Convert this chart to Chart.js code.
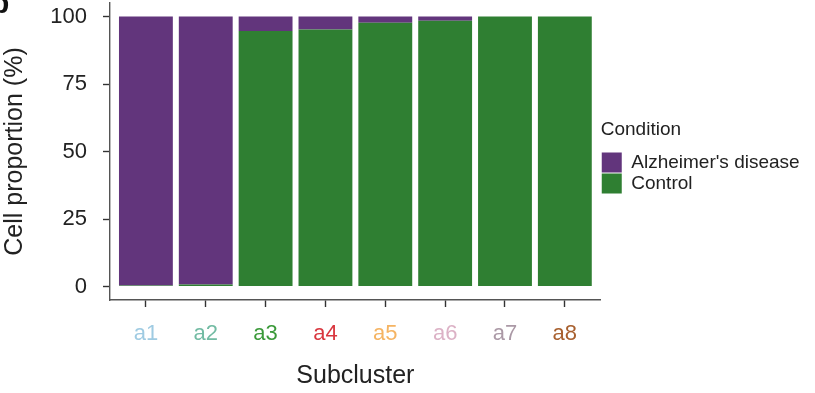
<!DOCTYPE html>
<html>
<head>
<meta charset="utf-8">
<script src="https://cdn.jsdelivr.net/npm/chart.js@4/dist/chart.umd.min.js"></script>
<style>
    body { margin: 0; background: #fff; }
    #wrap { position: relative; width: 815px; height: 393px; overflow: hidden; }
    #panel { position: absolute; left: -9px; top: -12px; font: bold 30px "Liberation Sans", Arial, sans-serif; color: #111; line-height: 1; }
</style>
</head>
<body>
<div id="wrap">
    <canvas id="grafica" width="815" height="393"></canvas>
    <div id="panel">b</div>
</div>
<script>
// subclusters y porcentajes
const subclusters = ["a1", "a2", "a3", "a4", "a5", "a6", "a7", "a8"];
const alzheimerPct = [99.6, 99.3, 5.4, 4.8, 2.3, 1.6, 0, 0];
const controlPct = [0.4, 0.7, 94.6, 95.2, 97.7, 98.4, 100, 100];
const yTicks = [0, 25, 50, 75, 100];
const colorTicks = ["#9fcbe2", "#72bba3", "#3b9a3a", "#d9373f", "#f5b463", "#dcb2c6", "#ab99a6", "#a8602f"];

const fuente = "'Liberation Sans', Arial, Helvetica, sans-serif";

function puntos(valores) {
    return valores.map((v, i) => ({x: i + 1, y: v}));
}

const ctx = document.getElementById('grafica').getContext('2d');
new Chart(ctx, {
    type: 'bar',
    data: {
        datasets: [{
                label: 'Control',
                data: puntos(controlPct),
                backgroundColor: '#2f7f32',
                borderWidth: 0,
                categoryPercentage: 1,
                barPercentage: 0.9
            }, {
                label: "Alzheimer's disease",
                data: puntos(alzheimerPct),
                backgroundColor: '#62357c',
                borderWidth: 0,
                categoryPercentage: 1,
                barPercentage: 0.9
            }]
    },
    options: {
        responsive: false,
        animation: false,
        layout: {padding: {top: 3, right: 14, left: 0, bottom: 0}},
        plugins: {
            tooltip: {enabled: false},
            legend: {
                position: 'right',
                align: 'center',
                fullSize: false,
                reverse: true,
                title: {
                    display: true,
                    text: 'Condition',
                    position: 'start',
                    color: '#222',
                    font: {family: fuente, size: 19},
                    padding: {top: 12, bottom: 8}
                },
                labels: {
                    boxWidth: 20,
                    boxHeight: 20,
                    padding: 1,
                    color: '#222',
                    font: {family: fuente, size: 19}
                }
            }
        },
        scales: {
            x: {
                type: 'linear',
                stacked: true,
                offset: false,
                min: 0.4,
                max: 8.6,
                afterBuildTicks: (scale) => {
                    scale.ticks = subclusters.map((s, i) => ({value: i + 1}));
                },
                afterFit: (scale) => {
                    scale.height = 93;
                    scale.paddingLeft = 0;
                    scale.paddingRight = 0;
                },
                grid: {display: true, offset: false, drawOnChartArea: false, drawTicks: true, tickLength: 7, tickWidth: 1.4, tickColor: '#333'},
                border: {display: true, color: '#555', width: 1.4},
                ticks: {
                    padding: 14,
                    maxRotation: 0,
                    autoSkip: false,
                    font: {family: fuente, size: 22},
                    color: (c) => colorTicks[c.tick.value - 1],
                    callback: (v) => subclusters[v - 1]
                },
                title: {
                    display: true,
                    text: 'Subcluster',
                    color: '#222',
                    font: {family: fuente, size: 25},
                    padding: {top: 0, bottom: 2}
                }
            },
            y: {
                stacked: true,
                min: -5,
                max: 105,
                afterBuildTicks: (scale) => {
                    scale.ticks = yTicks.map(v => ({value: v}));
                },
                afterFit: (scale) => {
                    scale.width = 110;
                    scale.paddingTop = 0;
                    scale.paddingBottom = 0;
                },
                grid: {display: true, drawOnChartArea: false, drawTicks: true, tickLength: 7, tickWidth: 1.4, tickColor: '#333'},
                border: {display: true, color: '#555', width: 1.4},
                ticks: {
                    padding: 16,
                    font: {family: fuente, size: 22},
                    color: '#222'
                },
                title: {
                    display: true,
                    text: 'Cell proportion (%)',
                    color: '#222',
                    font: {family: fuente, size: 25},
                    padding: {top: 0, bottom: 0}
                }
            }
        }
    }
});
</script>
</body>
</html>
